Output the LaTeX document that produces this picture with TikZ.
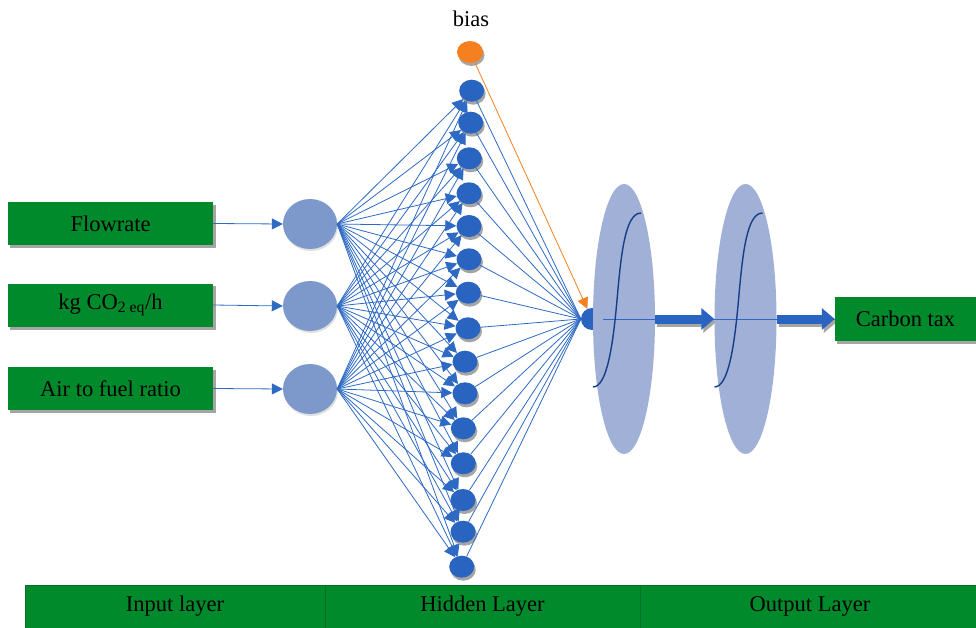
\documentclass[tikz,border=0pt]{standalone}
\usepackage{fontspec}
\setmainfont{Liberation Serif}
\usetikzlibrary{shapes.geometric,arrows.meta}
\definecolor{boxgreen}{RGB}{0,138,44}
\definecolor{bardiv}{RGB}{0,112,36}
\definecolor{incol}{RGB}{125,153,204}
\definecolor{hidcol}{RGB}{40,100,192}
\definecolor{linecol}{RGB}{46,106,196}
\definecolor{actcol}{RGB}{160,176,214}
\definecolor{sigcol}{RGB}{22,62,135}
\definecolor{biascol}{RGB}{245,128,32}
\definecolor{shadecol}{RGB}{165,165,165}
\pgfdeclarelayer{shadelayer}
\pgfsetlayers{shadelayer,main}
\begin{document}
\begin{tikzpicture}[x=1pt,y=-1pt,
  font=\fontsize{22.5}{26}\selectfont,
  inbox/.style={rectangle,fill=boxgreen,minimum width=205pt,minimum height=43pt,inner sep=0pt},
  incircle/.style={ellipse,fill=incol,minimum width=54pt,minimum height=50pt,inner sep=0pt},
  hid/.style={ellipse,fill=hidcol,minimum width=25pt,minimum height=22pt,inner sep=0pt},
  link/.style={draw=linecol,line width=0.8pt},
  inarrow/.style={link,-{Triangle[length=11pt,width=11pt]}},
  actnode/.style={ellipse,fill=actcol,minimum width=62pt,minimum height=270pt,inner sep=0pt},
  sigcurve/.style={draw=sigcol,line width=1.4pt},
  bigarrow/.style={draw=hidcol,line width=9pt,-{Triangle[length=13pt,width=21pt]}},
  layerbar/.style={rectangle,fill=boxgreen,draw=bardiv,line width=0.6pt,minimum height=43pt,inner sep=0pt}]

\useasboundingbox (0,0) rectangle (976,628);

% input boxes and input neurons
\node[inbox] (b1) at (110.5,223.5) {Flowrate};
\node[inbox] (b2) at (110.5,305) {kg CO\textsubscript{2 eq}/h};
\node[inbox] (b3) at (110.5,388.5) {Air to fuel ratio};
\node[incircle] (in1) at (310,224) {};
\node[incircle] (in2) at (310,306) {};
\node[incircle] (in3) at (310,389) {};

% hidden neurons
\foreach \i/\x/\y in {1/471.7/90.7, 2/470.7/122.7, 3/469.3/158.3, 4/469/193.3, 5/469/226,
                      6/469/259.3, 7/468.3/292.7, 8/468/328.3, 9/465/361.7, 10/465/393.3,
                      11/463.3/428.3, 12/463.3/463.3, 13/463/500, 14/463/531.7, 15/461.7/566.7}
  \node[hid] (h\i) at (\x,\y) {};

% bias and summing node
\node[ellipse,fill=biascol,minimum width=26pt,minimum height=22pt,inner sep=0pt] (bias) at (470,52) {};
\node (biaslabel) at (471,19) {bias};
\node[ellipse,fill=hidcol,minimum width=22pt,minimum height=22pt,inner sep=0pt] (col) at (592,319) {};

% connections
\foreach \k in {1,2,3}
  \draw[inarrow] (b\k.east) -- (in\k.west);
\foreach \k in {1,2,3}
  \foreach \j in {1,...,15}
    \draw[inarrow] (in\k.east) -- (h\j);
\foreach \j in {1,...,15}
  \draw[link] (h\j) -- (col.west);
\draw[draw=biascol,line width=0.8pt,-{Triangle[length=11pt,width=11pt]}] (bias) -- (col);

% activation stages
\node[actnode] (e1) at (624,319) {};
\node[actnode] (e2) at (745.5,319) {};
\node[rectangle,fill=boxgreen,minimum width=141pt,minimum height=44pt,inner sep=0pt] (ctax) at (905.5,319) {Carbon tax};

\draw[link] (col.east) -- (ctax.west);

\foreach \e in {e1,e2} {
  \begin{scope}[shift={(\e.center)}]
    \draw[sigcurve] (-31,68) .. controls (-17,68) and (-11,26) .. (-7,-19)
                    .. controls (-3,-64) and (1,-106) .. (17,-106);
  \end{scope}
}

% thick arrows
\draw[bigarrow] (e1.east) -- (e2.west);
\draw[bigarrow] (e2.east) -- (ctax.west);

% layer bar
\node[layerbar,minimum width=300pt] (lay1) at (175,606.5) {Input layer};
\node[layerbar,minimum width=315pt] (lay2) at (482.5,606.5) {Hidden Layer};
\node[layerbar,minimum width=340pt] (lay3) at (810,606.5) {Output Layer};

% white page and drop shadows, placed beneath everything
\begin{pgfonlayer}{shadelayer}
  \fill[white] (0,0) rectangle (976,628);
  \foreach \b in {b1,b2,b3,ctax}
    \fill[shadecol] ([shift={(2.5,3)}]\b.north west) rectangle ([shift={(2.5,3)}]\b.south east);
  \foreach \k in {1,2,3}
    \fill[black!12] ([shift={(1,2)}]in\k.center) ellipse [x radius=27, y radius=25];
  \foreach \j in {1,...,15}
    \fill[shadecol] ([shift={(1.5,3)}]h\j.center) ellipse [x radius=12.5, y radius=11];
  \fill[shadecol] ([shift={(1.5,3)}]bias.center) ellipse [x radius=13, y radius=11];
  \draw[bigarrow,draw=shadecol] ([shift={(2,3)}]e1.east) -- ([shift={(2,3)}]e2.west);
  \draw[bigarrow,draw=shadecol] ([shift={(2,3)}]e2.east) -- ([shift={(2,3)}]ctax.west);
\end{pgfonlayer}
\end{tikzpicture}
\end{document}
